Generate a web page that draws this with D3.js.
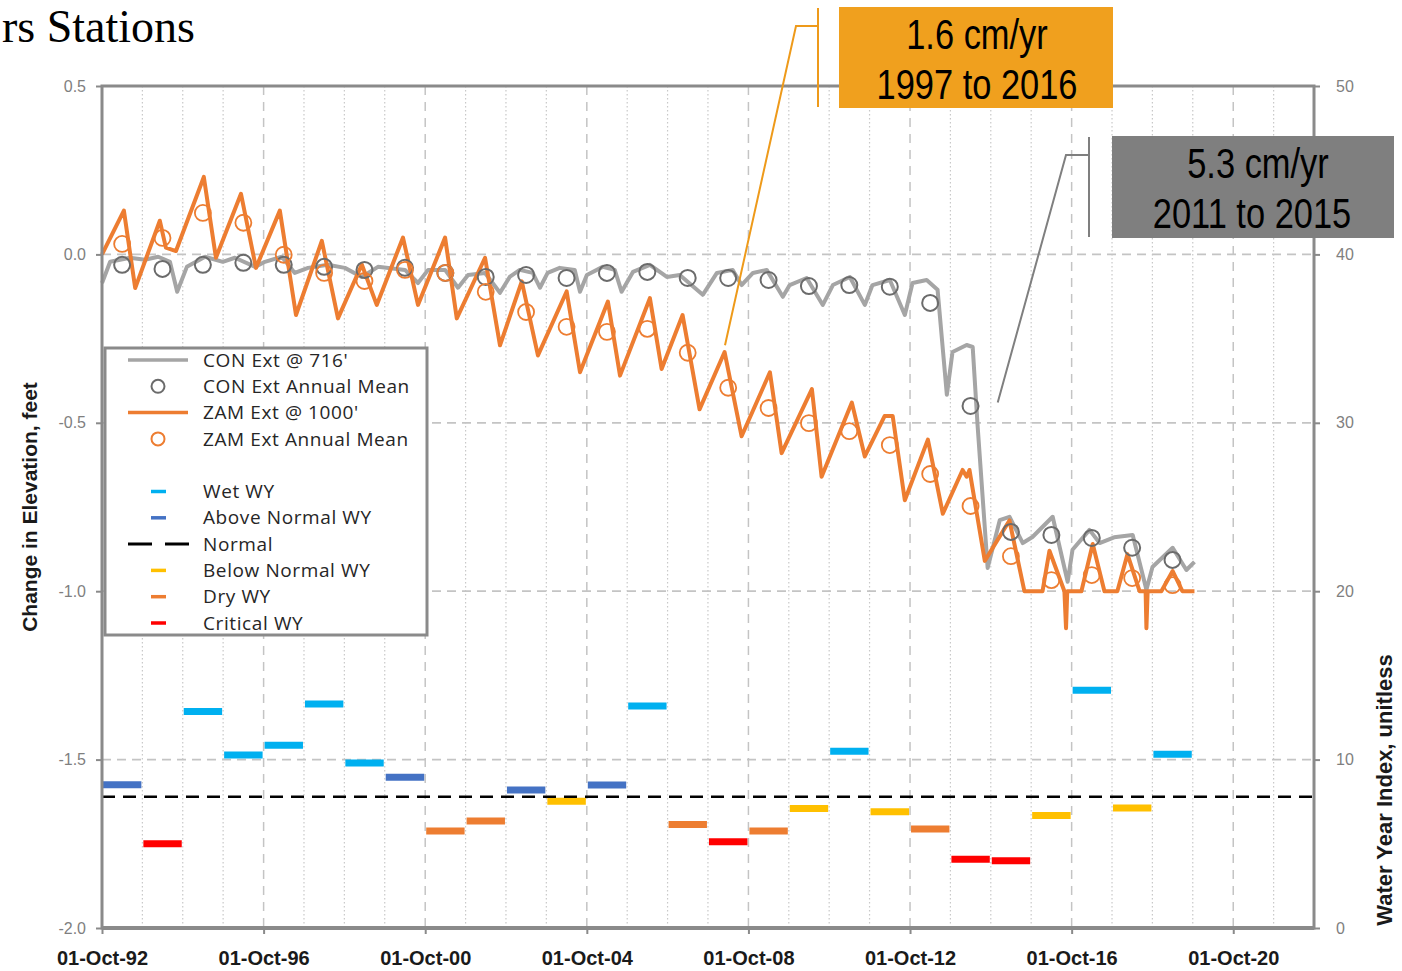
<!DOCTYPE html>
<html>
<head>
<meta charset="utf-8">
<script src="https://cdn.jsdelivr.net/npm/d3@7"></script>
<style>
  body { margin: 0; background: #fff; }
  svg { display: block; }
</style>
</head>
<body>
<div id="chart"></div>
<script>
// values
// [decimal year, change in elevation ft]
const conLine = [
  [1992.75,-0.085],[1992.95,-0.022],[1993.44,-0.010],[1993.81,-0.016],[1994.14,-0.007],[1994.43,-0.022],
  [1994.61,-0.111],[1994.85,-0.037],[1995.30,-0.007],[1995.74,-0.022],[1996.04,-0.010],[1996.54,-0.037],
  [1996.78,-0.022],[1997.20,-0.007],[1997.52,-0.055],[1997.85,-0.040],[1998.34,-0.031],[1998.76,-0.040],
  [1999.18,-0.067],[1999.58,-0.037],[2000.25,-0.046],[2000.57,-0.085],[2000.82,-0.046],[2001.24,-0.046],
  [2001.56,-0.099],[2001.81,-0.061],[2002.23,-0.055],[2002.60,-0.114],[2002.84,-0.067],[2003.09,-0.046],
  [2003.41,-0.055],[2003.59,-0.099],[2003.78,-0.055],[2004.08,-0.040],[2004.45,-0.046],[2004.58,-0.111],
  [2004.75,-0.061],[2005.14,-0.037],[2005.44,-0.046],[2005.61,-0.111],[2005.89,-0.052],[2006.31,-0.031],
  [2006.73,-0.067],[2007.05,-0.061],[2007.62,-0.120],[2007.97,-0.055],[2008.36,-0.046],[2008.58,-0.091],
  [2008.86,-0.055],[2009.20,-0.046],[2009.60,-0.126],[2009.77,-0.091],[2010.19,-0.070],[2010.59,-0.150],
  [2010.84,-0.091],[2011.26,-0.067],[2011.63,-0.150],[2011.82,-0.091],[2012.25,-0.076],[2012.62,-0.180],
  [2012.81,-0.085],[2013.16,-0.076],[2013.43,-0.105],[2013.66,-0.417],[2013.80,-0.290],[2014.15,-0.269],
  [2014.30,-0.275],[2014.42,-0.506],[2014.67,-0.931],[2014.97,-0.789],[2015.21,-0.779],[2015.54,-0.857],
  [2015.78,-0.839],[2016.28,-0.779],[2016.65,-0.972],[2016.77,-0.877],[2017.19,-0.818],[2017.44,-0.857],
  [2017.80,-0.840],[2018.26,-0.833],[2018.60,-0.996],[2018.75,-0.928],[2019.25,-0.871],[2019.59,-0.937],
  [2019.79,-0.913]
];
const zamLine = [
  [1992.75,0.00],[1993.29,0.13],[1993.57,-0.10],[1994.18,0.10],[1994.33,0.02],[1994.58,0.01],
  [1995.27,0.23],[1995.57,-0.01],[1996.19,0.18],[1996.56,-0.04],[1997.15,0.13],[1997.55,-0.18],
  [1998.19,0.04],[1998.59,-0.19],[1999.18,-0.03],[1999.55,-0.15],[2000.20,0.05],[2000.57,-0.15],
  [2001.24,0.05],[2001.53,-0.19],[2002.23,-0.01],[2002.60,-0.27],[2003.14,-0.08],[2003.54,-0.30],
  [2004.25,-0.11],[2004.58,-0.35],[2005.27,-0.14],[2005.57,-0.36],[2006.31,-0.13],[2006.60,-0.34],
  [2007.12,-0.18],[2007.54,-0.46],[2008.16,-0.29],[2008.58,-0.54],[2009.28,-0.35],[2009.57,-0.59],
  [2010.32,-0.40],[2010.56,-0.66],[2011.31,-0.44],[2011.63,-0.60],[2012.12,-0.48],[2012.32,-0.48],
  [2012.62,-0.73],[2013.19,-0.55],[2013.56,-0.77],[2014.05,-0.64],[2014.15,-0.66],[2014.22,-0.64],
  [2014.60,-0.91],[2015.21,-0.79],[2015.58,-1.00],[2016.03,-1.00],[2016.20,-0.88],[2016.57,-1.00],
  [2016.61,-1.11],[2016.64,-1.00],[2016.99,-1.00],[2017.27,-0.86],[2017.56,-1.00],[2017.88,-1.00],
  [2018.13,-0.89],[2018.43,-1.00],[2018.58,-1.00],[2018.60,-1.11],[2018.63,-1.00],[2018.97,-1.00],
  [2019.25,-0.94],[2019.49,-1.00],[2019.79,-1.00]
];

// annual means, plotted at mid water year
const meanYears = [1993,1994,1995,1996,1997,1998,1999,2000,2001,2002,2003,2004,2005,2006,
  2007,2008,2009,2010,2011,2012,2013,2014,2015,2016,2017,2018,2019];
const conMeans = [-0.031,-0.043,-0.031,-0.025,-0.031,-0.037,-0.046,-0.040,-0.055,-0.067,-0.061,-0.070,-0.055,-0.052,
  -0.070,-0.070,-0.076,-0.094,-0.091,-0.096,-0.144,-0.450,-0.824,-0.833,-0.842,-0.871,-0.907];
const zamMeans = [0.031,0.049,0.123,0.094,-0.001,-0.055,-0.079,-0.046,-0.055,-0.111,-0.171,-0.215,-0.230,-0.221,
  -0.292,-0.396,-0.456,-0.501,-0.525,-0.566,-0.652,-0.747,-0.896,-0.967,-0.952,-0.961,-0.982];

// water year index (right axis) and classification
const wyIndex = [8.5,5.0,12.85,10.27,10.85,13.3,9.8,8.95,5.76,6.35,8.2,7.52,8.49,13.18,
  6.15,5.12,5.76,7.1,10.5,6.9,5.88,4.08,4.0,6.68,14.12,7.12,10.32];
const wyType = ['AN','C','W','W','W','W','W','AN','D','D','AN','BN','AN','W',
  'D','C','D','BN','W','BN','D','C','C','BN','W','BN','W'];
const normalIndex = 7.8;

const leftTicks = [-2.0,-1.5,-1.0,-0.5,0.0,0.5];
const rightTicks = [0,10,20,30,40,50];
const labelYears = [1992,1996,2000,2004,2008,2012,2016,2020];

const typeColor = { W: '#00B0F0', AN: '#4472C4', BN: '#FFC000', D: '#ED7D31', C: '#FF0000' };

function dec(t) {
  const yr = Math.floor(t);
  const a = new Date(yr, 0, 1), b = new Date(yr + 1, 0, 1);
  return new Date(+a + (t - yr) * (b - a));
}

const W = 1402, H = 971;
const plot = { left: 102, right: 1314, top: 86, bottom: 928 };

const svg = d3.select('#chart').append('svg')
  .attr('width', W).attr('height', H)
  .style('font-family', '"Liberation Sans", Arial, sans-serif');

const x = d3.scaleTime()
  .domain([new Date(1992, 9, 1), new Date(2022, 9, 1)])
  .range([plot.left, plot.right]);
const y = d3.scaleLinear().domain([-2, 0.5]).range([plot.bottom, plot.top]);
const yR = d3.scaleLinear().domain([0, 50]).range([plot.bottom, plot.top]);

// title fragment (the source slide is cropped here)
svg.append('text')
  .attr('x', 2).attr('y', 42)
  .style('font-family', '"Liberation Serif", "Times New Roman", serif')
  .style('font-size', '46px')
  .text('rs Stations');

// grid
const grid = svg.append('g');
d3.range(1993, 2022).forEach(yr => {
  const gx = x(new Date(yr, 9, 1));
  const major = (yr - 1992) % 4 === 0;
  grid.append('line')
    .attr('x1', gx).attr('x2', gx).attr('y1', plot.top).attr('y2', plot.bottom)
    .attr('stroke', major ? '#c4c4c4' : '#c8c8c8')
    .attr('stroke-width', major ? 1.5 : 1.2)
    .attr('stroke-dasharray', major ? '9,7' : '1.5,2.5');
});
[-1.5, -1.0, -0.5, 0.0].forEach(v => {
  grid.append('line')
    .attr('x1', plot.left).attr('x2', plot.right).attr('y1', y(v)).attr('y2', y(v))
    .attr('stroke', '#c4c4c4').attr('stroke-width', 1.8).attr('stroke-dasharray', '9,6');
});

// water year index bars
svg.append('g').selectAll('line')
  .data(meanYears)
  .enter().append('line')
  .attr('x1', d => x(new Date(d - 1, 9, 1)) + 1)
  .attr('x2', d => x(new Date(d, 9, 1)) - 1)
  .attr('y1', (d, i) => yR(wyIndex[i]))
  .attr('y2', (d, i) => yR(wyIndex[i]))
  .attr('stroke', (d, i) => typeColor[wyType[i]])
  .attr('stroke-width', 7);

svg.append('line')
  .attr('x1', plot.left).attr('x2', plot.right)
  .attr('y1', yR(normalIndex)).attr('y2', yR(normalIndex))
  .attr('stroke', '#000').attr('stroke-width', 2.5).attr('stroke-dasharray', '13,8');

// series
const line = d3.line().x(d => x(dec(d[0]))).y(d => y(d[1]));
svg.append('path').datum(conLine)
  .attr('d', line).attr('fill', 'none')
  .attr('stroke', '#A5A5A5').attr('stroke-width', 4).attr('stroke-linejoin', 'round');
svg.append('path').datum(zamLine)
  .attr('d', line).attr('fill', 'none')
  .attr('stroke', '#ED7D31').attr('stroke-width', 4).attr('stroke-linejoin', 'round');

svg.append('g').selectAll('circle')
  .data(meanYears)
  .enter().append('circle')
  .attr('cx', d => x(new Date(d, 3, 1)))
  .attr('cy', (d, i) => y(conMeans[i]))
  .attr('r', 8)
  .attr('fill', 'none').attr('stroke', '#6b6b6b').attr('stroke-width', 2);
svg.append('g').selectAll('circle')
  .data(meanYears)
  .enter().append('circle')
  .attr('cx', d => x(new Date(d, 3, 1)))
  .attr('cy', (d, i) => y(zamMeans[i]))
  .attr('r', 8)
  .attr('fill', 'none').attr('stroke', '#ED7D31').attr('stroke-width', 1.8);

// frame
svg.append('rect')
  .attr('x', plot.left).attr('y', plot.top)
  .attr('width', plot.right - plot.left).attr('height', plot.bottom - plot.top)
  .attr('fill', 'none').attr('stroke', '#8a8a8a').attr('stroke-width', 3);

// axes
const axisLeft = svg.append('g')
  .attr('transform', `translate(${plot.left},0)`)
  .call(d3.axisLeft(y).tickValues(leftTicks).tickFormat(d => d.toFixed(1)).tickSize(6).tickPadding(10));
const axisRight = svg.append('g')
  .attr('transform', `translate(${plot.right},0)`)
  .call(d3.axisRight(yR).tickValues(rightTicks).tickSize(6).tickPadding(16));
[axisLeft, axisRight].forEach(g => {
  g.select('.domain').remove();
  g.selectAll('.tick line').attr('stroke', '#8a8a8a').attr('stroke-width', 2);
  g.selectAll('.tick text')
    .attr('fill', '#7f7f7f')
    .style('font-size', '16px')
    .style('font-family', '"Liberation Sans", Arial, sans-serif');
});

const axisBottom = svg.append('g')
  .attr('transform', `translate(0,${plot.bottom})`)
  .call(d3.axisBottom(x)
    .tickValues(labelYears.map(yr => new Date(yr, 9, 1)))
    .tickFormat(d3.timeFormat('%d-%b-%y'))
    .tickSize(6).tickPadding(17));
axisBottom.select('.domain').remove();
axisBottom.selectAll('.tick line').attr('stroke', '#8a8a8a').attr('stroke-width', 2);
axisBottom.selectAll('.tick text')
  .attr('fill', '#1a1a1a')
  .style('font-size', '20px').style('font-weight', 'bold')
  .style('font-family', '"Liberation Sans", Arial, sans-serif');

svg.append('line')
  .attr('x1', plot.left).attr('x2', plot.right)
  .attr('y1', plot.bottom).attr('y2', plot.bottom)
  .attr('stroke', '#8a8a8a').attr('stroke-width', 4);

// axis titles
svg.append('text')
  .attr('transform', `translate(37,${(plot.top + plot.bottom) / 2}) rotate(-90)`)
  .attr('text-anchor', 'middle')
  .style('font-size', '21px').style('font-weight', 'bold').attr('fill', '#1a1a1a')
  .text('Change in Elevation, feet');
svg.append('text')
  .attr('transform', `translate(1392,790) rotate(-90)`)
  .attr('text-anchor', 'middle')
  .style('font-size', '22px').style('font-weight', 'bold').attr('fill', '#1a1a1a')
  .text('Water Year Index, unitless');

// legend
const legendRows = [
  { label: "CON Ext @ 716'", kind: 'line', color: '#A5A5A5' },
  { label: 'CON Ext Annual Mean', kind: 'circle', color: '#6b6b6b' },
  { label: "ZAM Ext @ 1000'", kind: 'line', color: '#ED7D31' },
  { label: 'ZAM Ext Annual Mean', kind: 'circle', color: '#ED7D31' },
  { label: '', kind: 'none' },
  { label: 'Wet WY', kind: 'dash', color: typeColor.W },
  { label: 'Above Normal WY', kind: 'dash', color: typeColor.AN },
  { label: 'Normal', kind: 'normal', color: '#000' },
  { label: 'Below Normal WY', kind: 'dash', color: typeColor.BN },
  { label: 'Dry WY', kind: 'dash', color: typeColor.D },
  { label: 'Critical WY', kind: 'dash', color: typeColor.C }
];
const legend = svg.append('g').attr('transform', 'translate(105,348)');
legend.append('rect')
  .attr('width', 322).attr('height', 287)
  .attr('fill', '#fff').attr('stroke', '#8a8a8a').attr('stroke-width', 3);
legendRows.forEach((r, i) => {
  const ry = 12 + i * 26.3;
  const g = legend.append('g').attr('transform', `translate(0,${ry})`);
  if (r.kind === 'line') {
    g.append('line').attr('x1', 23).attr('x2', 83).attr('stroke', r.color).attr('stroke-width', 3.5);
  } else if (r.kind === 'circle') {
    g.append('circle').attr('cx', 53).attr('r', 6.5).attr('fill', 'none')
      .attr('stroke', r.color).attr('stroke-width', 2);
  } else if (r.kind === 'dash') {
    g.append('line').attr('x1', 46).attr('x2', 61).attr('stroke', r.color).attr('stroke-width', 3.5);
  } else if (r.kind === 'normal') {
    g.append('line').attr('x1', 23).attr('x2', 84).attr('stroke', r.color)
      .attr('stroke-width', 3).attr('stroke-dasharray', '24,13');
  }
  g.append('text')
    .attr('x', 98).attr('dy', '0.35em')
    .attr('fill', '#262626')
    .style('font-family', '"Open Sans", sans-serif')
    .style('font-size', '19px').style('letter-spacing', '0.6px')
    .text(r.label);
});

// rate callouts (narrow face emulated by squeezing Liberation Sans)
function callout(o) {
  const g = svg.append('g');
  g.append('path')
    .attr('d', `M${o.tip[0]},${o.tip[1]} L${o.elbow},${o.bracketY} L${o.bracketX},${o.bracketY}`)
    .attr('fill', 'none').attr('stroke', o.lineColor).attr('stroke-width', 2);
  g.append('line')
    .attr('x1', o.bracketX).attr('x2', o.bracketX).attr('y1', o.box[1] + 1).attr('y2', o.box[1] + o.box[3] - 1)
    .attr('stroke', o.lineColor).attr('stroke-width', 2);
  g.append('rect')
    .attr('x', o.box[0]).attr('y', o.box[1]).attr('width', o.box[2]).attr('height', o.box[3])
    .attr('fill', o.fill);
  o.lines.forEach((t, i) => {
    const cx = o.box[0] + o.box[2] / 2 + o.dx[i];
    const cy = o.box[1] + 42 + i * 50;
    g.append('text')
      .attr('transform', `translate(${cx},${cy}) scale(0.82,1)`)
      .attr('text-anchor', 'middle')
      .style('font-family', '"Liberation Sans", Arial, sans-serif').style('font-size', '42px')
      .attr('fill', '#000')
      .text(t);
  });
}
callout({
  tip: [x(dec(2008.17)), y(-0.27)], elbow: 796, bracketY: 26, bracketX: 818,
  box: [839, 7, 274, 101], fill: '#F0A01E', lineColor: '#EE9A1A',
  lines: ['1.6 cm/yr', '1997 to 2016'], dx: [1, 1]
});
callout({
  tip: [x(dec(2014.92)), y(-0.44)], elbow: 1066, bracketY: 155, bracketX: 1089,
  box: [1112, 136, 282, 102], fill: '#7F7F7F', lineColor: '#7F7F7F',
  lines: ['5.3 cm/yr', '2011 to 2015'], dx: [5, -1]
});
</script>
</body>
</html>
